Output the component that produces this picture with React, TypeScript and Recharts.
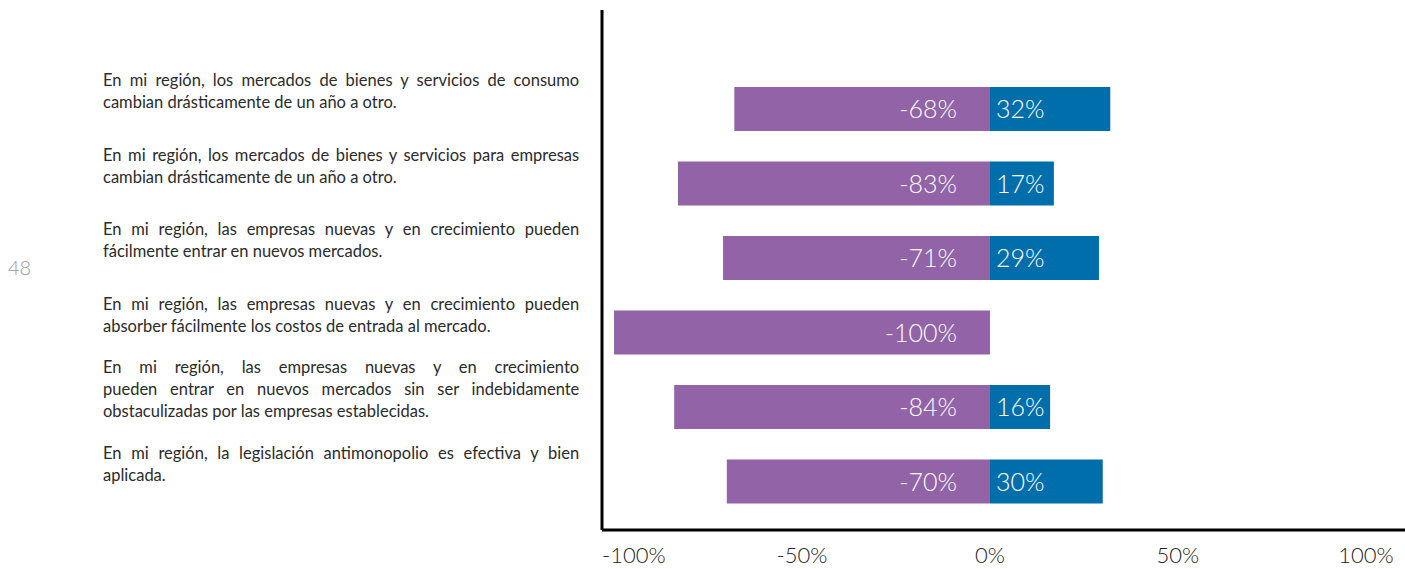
import { BarChart, Bar, XAxis, YAxis, LabelList } from "recharts";

const statements = [
  ["En mi región, los mercados de bienes y servicios de consumo", "cambian drásticamente de un año a otro."],
  ["En mi región, los mercados de bienes y servicios para empresas", "cambian drásticamente de un año a otro."],
  ["En mi región, las empresas nuevas y en crecimiento pueden", "fácilmente entrar en nuevos mercados."],
  ["En mi región, las empresas nuevas y en crecimiento pueden", "absorber fácilmente los costos de entrada al mercado."],
  [
    "En mi región, las empresas nuevas y en crecimiento",
    "pueden entrar en nuevos mercados sin ser indebidamente",
    "obstaculizadas por las empresas establecidas.",
  ],
  ["En mi región, la legislación antimonopolio es efectiva y bien", "aplicada."],
];
const disagree = [-68, -83, -71, -100, -84, -70];
const agree = [32, 17, 29, 0, 16, 30];
const xTicks = [-100, -50, 0, 50, 100];

const rows = statements.map((_, i) => ({ id: `q${i + 1}`, disagree: disagree[i], agree: agree[i] }));

const PURPLE = "#9263a7";
const BLUE = "#006eaa";
const LABEL_FONT = "Lato, 'Open Sans', sans-serif";
const LABEL_SIZE = 16.5;
const LABEL_WIDTH = 477;
const LINE_H = 22;

let ctx: CanvasRenderingContext2D | null = null;
function measure(s: string) {
  if (!ctx) ctx = document.createElement("canvas").getContext("2d");
  if (!ctx) return s.length * 7.5;
  ctx.font = `${LABEL_SIZE}px Lato`;
  return ctx.measureText(s).width;
}

function YTick(props: any) {
  const { x, y, index } = props;
  const lines = statements[index] || [];
  const left = x - 22 - LABEL_WIDTH;
  const center = y - 18;
  const first = center - ((lines.length - 1) * LINE_H) / 2;
  return (
    <g>
      {lines.map((ln, i) => {
        const last = i === lines.length - 1;
        const spaces = ln.split(" ").length - 1;
        const ws = last || !spaces ? 0 : Math.max(0, (LABEL_WIDTH - measure(ln)) / spaces);
        return (
          <text
            key={i}
            x={left}
            y={first + i * LINE_H}
            dy="0.35em"
            fontFamily={LABEL_FONT}
            fontSize={LABEL_SIZE}
            fill="#2b2b2b"
            style={{ wordSpacing: ws }}
          >
            {ln}
          </text>
        );
      })}
    </g>
  );
}

function XTick(props: any) {
  const { x, y, payload, index } = props;
  const first = index === 0;
  return (
    <text
      x={first ? x - 12 : x}
      y={y + 33}
      textAnchor={first ? "start" : "middle"}
      fontFamily={LABEL_FONT}
      fontWeight={300}
      fontSize={22}
      fill="#222"
    >
      {`${payload.value}%`}
    </text>
  );
}

const negLabel = (p: any) => {
  const { x, y, width, height, value } = p;
  if (!value) return null;
  const zero = Math.max(x, x + width);
  return (
    <text x={zero - 33} y={y + height / 2} dy="0.36em" textAnchor="end" fill="#fff"
      fontFamily={LABEL_FONT} fontWeight={300} fontSize={25}>
      {`${value}%`}
    </text>
  );
};

const posLabel = (p: any) => {
  const { x, y, width, height, value } = p;
  if (!value) return null;
  const zero = Math.min(x, x + width);
  return (
    <text x={zero + 6} y={y + height / 2} dy="0.36em" textAnchor="start" fill="#fff"
      fontFamily={LABEL_FONT} fontWeight={300} fontSize={25}>
      {`${value}%`}
    </text>
  );
};

export default function App() {
  return (
    <div style={{ position: "absolute", left: 0, top: 0, width: 1405, height: 569, background: "#fff" }}>
      <div
        style={{
          position: "absolute",
          left: 8,
          top: 255,
          fontFamily: LABEL_FONT,
          fontWeight: 300,
          fontSize: 20,
          color: "#999",
        }}
      >
        48
      </div>
      <BarChart
        width={1405}
        height={569}
        data={rows}
        layout="vertical"
        stackOffset="sign"
        barSize={44}
        margin={{ top: 10, right: 0, bottom: 0, left: 0 }}
      >
        <XAxis
          type="number"
          domain={[-103.2, 110.4]}
          ticks={xTicks}
          allowDataOverflow
          height={39}
          tickSize={0}
          tickMargin={0}
          tickLine={false}
          axisLine={{ stroke: "#000", strokeWidth: 3 }}
          tick={<XTick />}
        />
        <YAxis
          type="category"
          dataKey="id"
          width={602}
          tickSize={0}
          tickMargin={0}
          tickLine={false}
          axisLine={{ stroke: "#000", strokeWidth: 3 }}
          padding={{ top: 62, bottom: 11 }}
          tick={<YTick />}
        />
        <Bar dataKey="disagree" stackId="s" fill={PURPLE} isAnimationActive={false}>
          <LabelList dataKey="disagree" content={negLabel} />
        </Bar>
        <Bar dataKey="agree" stackId="s" fill={BLUE} isAnimationActive={false}>
          <LabelList dataKey="agree" content={posLabel} />
        </Bar>
      </BarChart>
    </div>
  );
}
